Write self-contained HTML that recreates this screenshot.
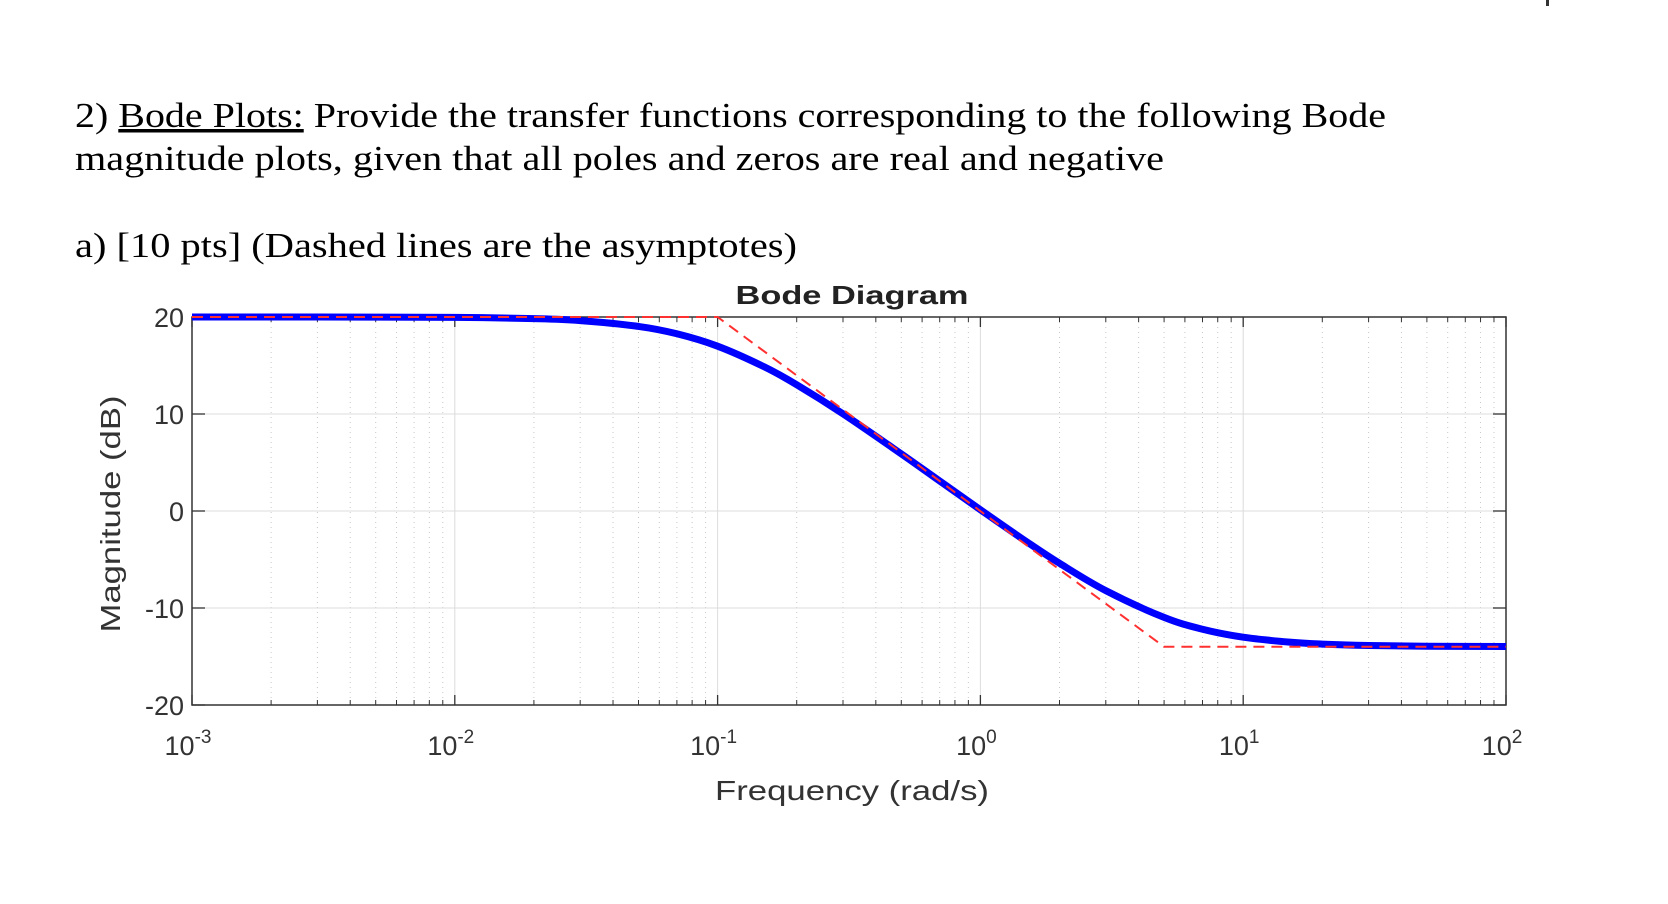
<!DOCTYPE html>
<html><head><meta charset="utf-8"><style>
html,body{margin:0;padding:0;background:#fff;}
svg{display:block;}
</style></head><body>
<svg id="chart" width="1668" height="904" viewBox="0 0 1668 904" xmlns="http://www.w3.org/2000/svg">
<rect x="1546" y="0" width="3" height="6" fill="#333"/>
<g font-family="'Liberation Serif', serif" fill="#000" font-size="35">
<text x="75" y="127" textLength="1311" lengthAdjust="spacingAndGlyphs">2) <tspan text-decoration="underline">Bode Plots:</tspan> Provide the transfer functions corresponding to the following Bode</text>
<text x="75" y="170" textLength="1089" lengthAdjust="spacingAndGlyphs">magnitude plots, given that all poles and zeros are real and negative</text>
<text x="75" y="257" textLength="722" lengthAdjust="spacingAndGlyphs">a) [10 pts] (Dashed lines are the asymptotes)</text>
</g>
<text x="852" y="304" text-anchor="middle" font-family="'Liberation Sans', sans-serif" font-weight="bold" font-size="26" fill="#222" textLength="233" lengthAdjust="spacingAndGlyphs">Bode Diagram</text>
<g id="grid"></g>
<g id="axes"></g>
<g id="series"></g>
<text x="852" y="800" text-anchor="middle" font-family="'Liberation Sans', sans-serif" font-size="28" fill="#333" textLength="274" lengthAdjust="spacingAndGlyphs">Frequency (rad/s)</text>
<text transform="translate(120,514) rotate(-90)" text-anchor="middle" font-family="'Liberation Sans', sans-serif" font-size="28" fill="#333" textLength="237" lengthAdjust="spacingAndGlyphs">Magnitude (dB)</text>
</svg>
<script>
const yTicks = [20, 10, 0, -10, -20];
const xDecades = [-3, -2, -1, 0, 1, 2];
const freq = [0.001,0.003,0.01,0.02,0.03,0.05,0.07,0.1,0.15,0.2,0.3,0.5,0.7,1,1.5,2,3,5,7,10,15,20,30,50,100];
const magnitude = [20,20,19.96,19.83,19.63,19.03,18.27,16.99,14.88,13.02,10.02,5.89,3.09,0.13,-3.17,-5.39,-8.21,-10.97,-12.19,-13.01,-13.52,-13.72,-13.86,-13.94,-13.97];
const asymFreq = [0.001, 0.1, 5, 100];
const asymMag = [20, 20, -14, -14];

const NS='http://www.w3.org/2000/svg';
const L=192,R=1506,T=317,B=705;
const xMin=-3,xMax=2,yMin=-20,yMax=20;
const sx=f=>L+(Math.log10(f)-xMin)/(xMax-xMin)*(R-L);
const sy=v=>B-(v-yMin)/(yMax-yMin)*(B-T);
function mk(tag,attrs,parent){const e=document.createElementNS(NS,tag);for(const k in attrs)e.setAttribute(k,attrs[k]);parent.appendChild(e);return e;}
const grid=document.getElementById('grid'),axes=document.getElementById('axes'),series=document.getElementById('series');

for(let d=xMin; d<xMax; d++){
  for(let m=2;m<=9;m++){
    const x=sx(m*Math.pow(10,d));
    const g=mk('line',{x1:x,x2:x,y1:T,y2:B,stroke:'#c8c8c8','stroke-width':1,'stroke-dasharray':'1 4'},grid);
    
    
    for(const [y0,y1] of [[T,T+5],[B,B-5]]){
      const t=mk('line',{x1:x,x2:x,y1:y0,y2:y1,stroke:'#333','stroke-width':1},axes);
      
      
    }
  }
}
xDecades.forEach(d=>{
  const x=sx(Math.pow(10,d));
  const g=mk('line',{x1:x,x2:x,y1:T,y2:B,stroke:'#dcdcdc','stroke-width':1},grid);
  
  
  for(const [y0,y1] of [[T,T+10],[B,B-10]]){
    const t=mk('line',{x1:x,x2:x,y1:y0,y2:y1,stroke:'#333','stroke-width':1.3},axes);
    
    
  }
  const lb=mk('text',{x:x-4,y:B+50,'text-anchor':'middle','font-family':"'Liberation Sans', sans-serif",'font-size':27,fill:'#333'},axes);
  
  
  lb.textContent='10';
  const sup=mk('tspan',{dy:-12,'font-size':19},lb);
  sup.textContent=String(d);
});
yTicks.forEach(v=>{
  const y=sy(v);
  const g=mk('line',{x1:L,x2:R,y1:y,y2:y,stroke:'#dcdcdc','stroke-width':1},grid);
  
  
  for(const [x0,x1] of [[L,L+13],[R,R-13]]){
    const t=mk('line',{x1:x0,x2:x1,y1:y,y2:y,stroke:'#333','stroke-width':1.3},axes);
    
    
  }
  const lb=mk('text',{x:L-8,y:y+10,'text-anchor':'end','font-family':"'Liberation Sans', sans-serif",'font-size':27,fill:'#333'},axes);
  
  
  lb.textContent=String(v);
});
const box=mk('rect',{x:L,y:T,width:R-L,height:B-T,fill:'none',stroke:'#333','stroke-width':1.5},axes);



const pts=freq.map((f,i)=>[sx(f),sy(magnitude[i])]);
let d='M'+pts[0][0]+','+pts[0][1];
for(let i=0;i<pts.length-1;i++){
  const p0=pts[Math.max(0,i-1)],p1=pts[i],p2=pts[i+1],p3=pts[Math.min(pts.length-1,i+2)];
  const c1=[p1[0]+(p2[0]-p0[0])/6,p1[1]+(p2[1]-p0[1])/6];
  const c2=[p2[0]-(p3[0]-p1[0])/6,p2[1]-(p3[1]-p1[1])/6];
  d+=` C${c1[0]},${c1[1]} ${c2[0]},${c2[1]} ${p2[0]},${p2[1]}`;
}
const mag=mk('path',{d:d,fill:'none',stroke:'#0000ff','stroke-width':7,'stroke-linejoin':'round'},series);


const ad='M'+asymFreq.map((f,i)=>sx(f)+','+sy(asymMag[i])).join(' L');
const as=mk('path',{d:ad,fill:'none',stroke:'#ff3030','stroke-width':2,'stroke-dasharray':'11 7'},series);


</script>
</body></html>
